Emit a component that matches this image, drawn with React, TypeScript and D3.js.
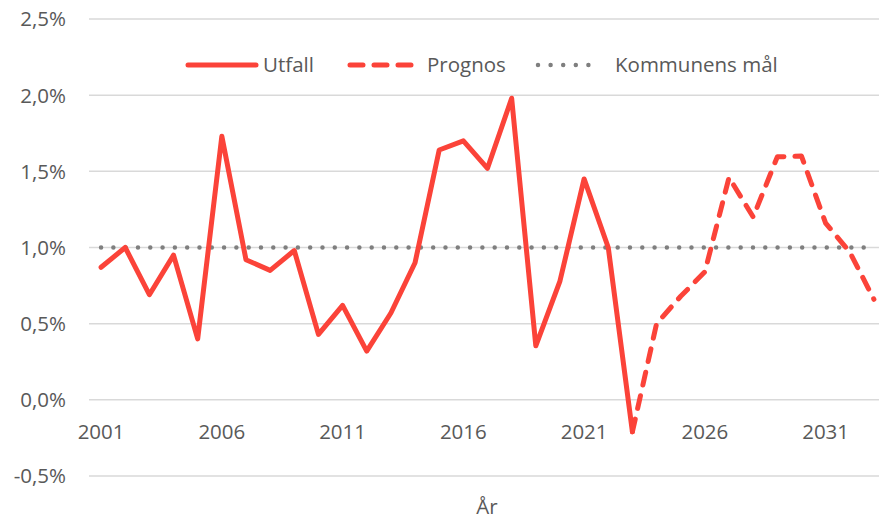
import React from "react";
import * as d3 from "d3";

const utfallYears = d3.range(2001, 2024);
const utfall = [0.87, 1.0, 0.69, 0.95, 0.4, 1.73, 0.92, 0.85, 0.98, 0.43, 0.62, 0.32, 0.57, 0.9, 1.64, 1.7, 1.52, 1.98, 0.355, 0.78, 1.45, 1.0, -0.21];
const prognosYears = d3.range(2023, 2034);
const prognos = [-0.21, 0.5, 0.68, 0.84, 1.46, 1.2, 1.595, 1.6, 1.16, 0.97, 0.66];
const malYears = d3.range(2001, 2034);
const mal = malYears.map(() => 1.0);
const yTicks = [-0.5, 0, 0.5, 1.0, 1.5, 2.0, 2.5];
const xTicks = [2001, 2006, 2011, 2016, 2021, 2026, 2031];

const W = 879;
const H = 519;
const RED = "#FB4339";
const GREY = "#7F7F7F";
const TEXT = "#595959";
const FONT = "'Open Sans', sans-serif";
const FS = 20.5;
const SW = 5;

export default function App() {
  const x = d3.scaleLinear().domain([2000.5, 2033.5]).range([89, 886]);
  const y = d3.scaleLinear().domain([-0.5, 2.5]).range([476, 19]);
  const line = d3
    .line<[number, number]>()
    .x((d) => x(d[0]))
    .y((d) => y(d[1]));
  const fmt = (v: number) => d3.format(".1f")(v).replace(".", ",").replace("−", "-") + "%";

  return (
    <svg
      width={W}
      height={H}
      style={{ position: "absolute", left: 0, top: 0, background: "#fff" }}
      fontFamily={FONT}
    >
      {yTicks.map((t) => (
        <g key={t}>
          <line x1={89} x2={W} y1={y(t)} y2={y(t)} stroke="#D9D9D9" strokeWidth={1.5} />
          <text x={66} y={y(t)} dy="0.36em" textAnchor="end" fontSize={FS} fill={TEXT}>
            {fmt(t)}
          </text>
        </g>
      ))}
      {xTicks.map((t) => (
        <text key={t} x={x(t)} y={439} textAnchor="middle" fontSize={FS} fill={TEXT}>
          {t}
        </text>
      ))}
      <text x={487} y={514} textAnchor="middle" fontSize={FS} fill={TEXT}>
        År
      </text>

      <path
        d={line(malYears.map((yr, i) => [yr, mal[i]]))!}
        fill="none"
        stroke={GREY}
        strokeWidth={4.5}
        strokeLinecap="round"
        strokeDasharray="0 12.3"
      />
      <path
        d={line(utfallYears.map((yr, i) => [yr, utfall[i]]))!}
        fill="none"
        stroke={RED}
        strokeWidth={SW}
        strokeLinejoin="round"
        strokeLinecap="round"
      />
      <path
        d={line(prognosYears.map((yr, i) => [yr, prognos[i]]))!}
        fill="none"
        stroke={RED}
        strokeWidth={SW}
        strokeLinejoin="round"
        strokeLinecap="round"
        strokeDasharray="13 11"
      />

      {/* legend */}
      <g fontSize={FS} fill={TEXT}>
        <line x1={188} x2={256} y1={65} y2={65} stroke={RED} strokeWidth={SW} strokeLinecap="round" />
        <text x={263} y={65} dy="0.36em">Utfall</text>
        <line x1={350} x2={412} y1={65} y2={65} stroke={RED} strokeWidth={SW} strokeLinecap="round" strokeDasharray="13 11" />
        <text x={427} y={65} dy="0.36em">Prognos</text>
        <line x1={538} x2={601} y1={65} y2={65} stroke={GREY} strokeWidth={4.5} strokeLinecap="round" strokeDasharray="0 12.6" />
        <text x={615} y={65} dy="0.36em">Kommunens mål</text>
      </g>
    </svg>
  );
}
